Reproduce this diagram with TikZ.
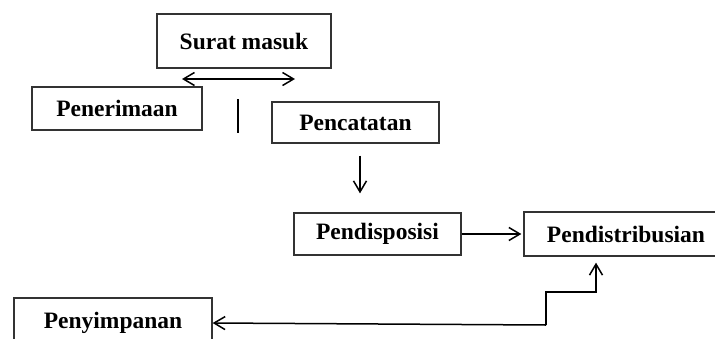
\documentclass[tikz,border=0pt]{standalone}
\usepackage{fontspec}
\setmainfont{Liberation Serif}
\usetikzlibrary{arrows.meta}
\begin{document}
\begin{tikzpicture}[x=1pt,y=-1pt]
\tikzstyle{step-box}=[draw=black!80, line width=1.3pt, inner sep=0pt, font=\fontsize{23.5}{28}\selectfont\bfseries]
\tikzstyle{flow}=[-{Straight Barb[length=11pt,width=13pt]}, black, line width=1.5pt]
\tikzstyle{both-flow}=[{Straight Barb[length=11pt,width=13pt]}-{Straight Barb[length=11pt,width=13pt]}, black, line width=1.5pt]
\tikzstyle{plain}=[-, black, line width=1.5pt]
\useasboundingbox (0,0) rectangle (715,338);
\node[style=step-box, minimum width=174pt, minimum height=54pt] (surat) at (244,41) {Surat masuk};
\node[style=step-box, minimum width=170pt, minimum height=43pt] (penerimaan) at (117,108.5) {Penerimaan};
\node[style=step-box, minimum width=167pt, minimum height=41pt] (pencatatan) at (355.5,122.5) {Pencatatan};
\node[style=step-box, minimum width=167pt, minimum height=42pt] (pendisposisi) at (377.5,234) {Pendisposisi};
\node[style=step-box, minimum width=204pt, minimum height=44pt] (pendistribusian) at (626,234) {Pendistribusian};
\node[style=step-box, minimum width=198pt, minimum height=50pt] (penyimpanan) at (113,323) {Penyimpanan};

\coordinate (left-end) at (182,79);
\coordinate (right-end) at (295,79);
\coordinate (bar-top) at (238,99);
\coordinate (bar-bottom) at (238,133);
\coordinate (split) at (546,325);

\draw[style=both-flow] (left-end) -- (right-end);
\draw[style=plain] (bar-top) -- (bar-bottom);

\draw[style=flow, shorten <=12pt, shorten >=19pt] ([xshift=4.5pt]pencatatan.south) -- ([xshift=4.5pt]pencatatan.south |- pendisposisi.north);
\draw[style=flow, shorten >=2pt] (pendisposisi.east) -- (pendistribusian.west);

\draw[style=flow, shorten >=6pt] (split) -- ++(0,-33) -| ([xshift=-30pt]pendistribusian.south);
\draw[style=flow] (split) -- (penyimpanan.east);

\end{tikzpicture}
\end{document}
